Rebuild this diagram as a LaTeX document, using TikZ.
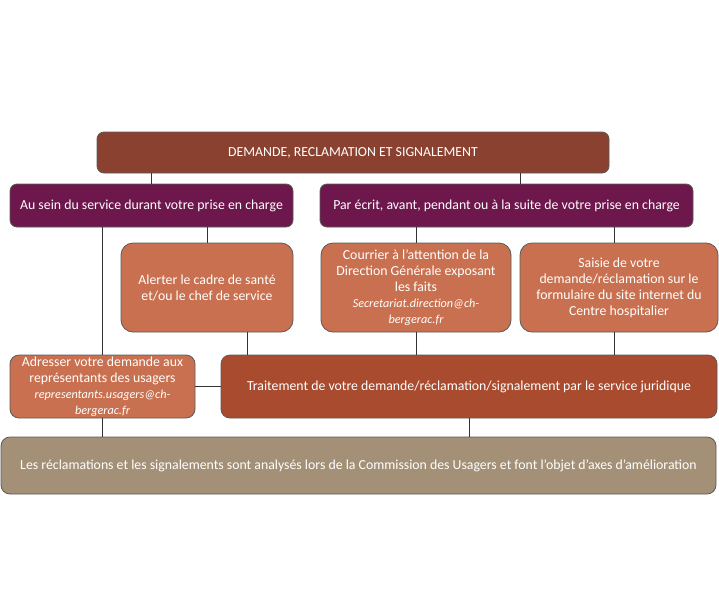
\documentclass[tikz,border=0pt]{standalone}
\usepackage{fontspec}
\setmainfont{Carlito}
\usetikzlibrary{positioning}
\definecolor{headbrown}{HTML}{8A412F}
\definecolor{waypurple}{HTML}{6D174D}
\definecolor{stepor}{HTML}{C8704F}
\definecolor{treatred}{HTML}{A84B2E}
\definecolor{endtaupe}{HTML}{A39077}
\definecolor{edgegray}{HTML}{5A5A5A}
\newcommand{\mailfont}{\fontsize{12.2}{16}\selectfont\itshape}

\begin{document}
\begin{tikzpicture}[x=1pt, y=-1pt,
  every node/.style={font=\fontsize{13.8}{16}\selectfont, align=center, text=white, inner sep=0pt},
  box/.style={draw=edgegray, line width=0.8pt, rounded corners=7pt},
  card/.style={box, rounded corners=12pt, fill=stepor},
  link/.style={draw=black!80, line width=0.9pt}]
  \useasboundingbox (0,0) rectangle (719,600);
  \node[box, fill=headbrown, minimum width=512pt, minimum height=41pt] (head) at (353,152.5)
    {DEMANDE, RECLAMATION ET SIGNALEMENT};
  \node[box, fill=waypurple, minimum width=283pt, minimum height=43pt] (inward) at (151.5,205.5)
    {Au sein du service durant votre prise en charge};
  \node[box, fill=waypurple, minimum width=373pt, minimum height=43pt] (written) at (506.5,205.5)
    {Par écrit, avant, pendant ou à la suite de votre prise en charge};
  \node[card, minimum width=172pt, minimum height=89pt] (alert) at (207,287.5)
    {Alerter le cadre de santé\\et/ou le chef de service};
  \node[card, minimum width=190pt, minimum height=89pt] (mailDG) at (416,287.5)
    {Courrier à l’attention de la\\Direction Générale exposant\\les faits\\{\mailfont Secretariat.direction@ch-}\\{\mailfont bergerac.fr}};
  \node[card, minimum width=198pt, minimum height=89pt] (webform) at (619,287.5)
    {Saisie de votre\\demande/réclamation sur le\\formulaire du site internet du\\Centre hospitalier};
  \node[box, rounded corners=9pt, fill=stepor, minimum width=185pt, minimum height=63pt] (usagers) at (102.5,386.5)
    {Adresser votre demande aux\\représentants des usagers\\{\mailfont representants.usagers@ch-}\\{\mailfont bergerac.fr}};
  \node[box, rounded corners=9pt, fill=treatred, minimum width=496pt, minimum height=63pt] (legal) at (469,386.5)
    {Traitement de votre demande/réclamation/signalement par le service juridique};
  \node[box, rounded corners=9pt, fill=endtaupe, minimum width=715pt, minimum height=57pt] (cdu) at (358.5,465.5)
    {Les réclamations et les signalements sont analysés lors de la Commission des Usagers et font l’objet d’axes d’amélioration};
  \draw[link] (inward.north) -- (inward.north |- head.south);
  \draw[link] ([xshift=13.5pt]written.north) -- ([xshift=13.5pt]written.north |- head.south);
  \draw[link] (alert.north) -- (alert.north |- inward.south);
  \draw[link] (usagers.north) -- (usagers.north |- inward.south);
  \draw[link] (usagers.south) -- (usagers.south |- cdu.north);
  \draw[link] (mailDG.north) -- (mailDG.north |- written.south);
  \draw[link] ([xshift=-5pt]webform.north) -- ([xshift=-5pt]webform.north |- written.south);
  \draw[link] ([xshift=40pt]alert.south) -- ([xshift=40pt]alert.south |- legal.north);
  \draw[link] (mailDG.south) -- (mailDG.south |- legal.north);
  \draw[link] ([xshift=-5pt]webform.south) -- ([xshift=-5pt]webform.south |- legal.north);
  \draw[link] (usagers.east) -- (legal.west);
  \draw[link] (legal.south) -- (legal.south |- cdu.north);
\end{tikzpicture}
\end{document}
